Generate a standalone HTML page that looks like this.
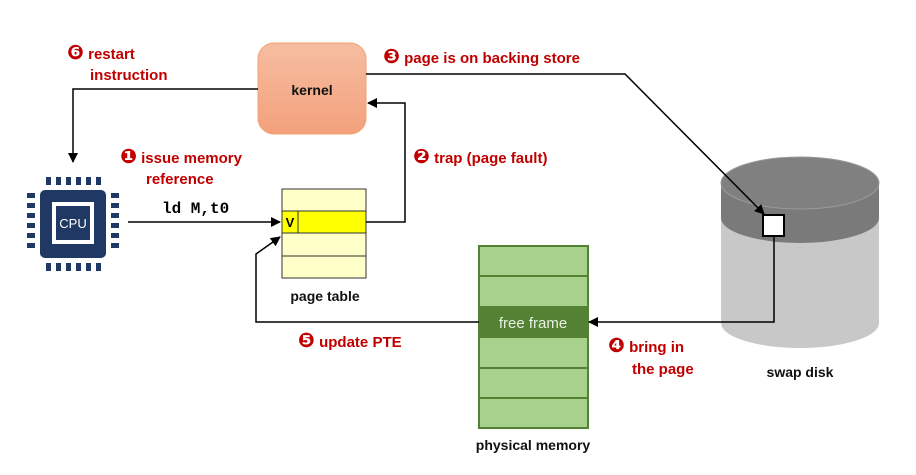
<!DOCTYPE html>
<html><head><meta charset="utf-8"><style>
body{margin:0;background:#fff}
svg text{font-family:"Liberation Sans",sans-serif}
svg text.m{font-family:"Liberation Mono",monospace}
.r{fill:#c00000;font-weight:bold;font-size:15px}
.b{fill:#111;font-weight:bold;font-size:14px}
.n{font-size:20px;font-family:"DejaVu Sans",sans-serif}
</style></head><body>
<svg width="916" height="470" viewBox="0 0 916 470" xmlns="http://www.w3.org/2000/svg">
<defs>
<marker id="a" markerWidth="10" markerHeight="10" refX="9" refY="5" orient="auto" markerUnits="userSpaceOnUse"><path d="M0,0 L10,5 L0,10 z" fill="#000"/></marker>
<linearGradient id="k" x1="0" y1="0" x2="0" y2="1"><stop offset="0" stop-color="#f6bda0"/><stop offset="1" stop-color="#f3a17c"/></linearGradient>
</defs>
<!-- disk -->
<path d="M721,323 L721,218 A79,25 0 0 0 879,218 L879,323 A79,25 0 0 1 721,323 z" fill="#c8c8c8"/>
<path d="M721,218 L721,183 A79,26 0 0 1 879,183 L879,218 A79,25 0 0 1 721,218 z" fill="#7a7a7a"/>
<ellipse cx="800" cy="183" rx="79" ry="26" fill="#808080" stroke="#999" stroke-width="1"/>
<!-- kernel -->
<rect x="258" y="43" width="108" height="91" rx="16" fill="url(#k)" stroke="#f0a070"/>
<text x="312" y="95" class="b" text-anchor="middle" font-size="15">kernel</text>
<!-- CPU -->
<g fill="#203864">
<rect x="40" y="190" width="66" height="68" rx="5"/>
<g id="pt"><rect x="46" y="177" width="5" height="8"/><rect x="56" y="177" width="5" height="8"/><rect x="66" y="177" width="5" height="8"/><rect x="76" y="177" width="5" height="8"/><rect x="86" y="177" width="5" height="8"/><rect x="96" y="177" width="5" height="8"/></g>
<use href="#pt" y="86"/>
<g id="pl"><rect x="27" y="193" width="8" height="5"/><rect x="27" y="203" width="8" height="5"/><rect x="27" y="213" width="8" height="5"/><rect x="27" y="223" width="8" height="5"/><rect x="27" y="233" width="8" height="5"/><rect x="27" y="243" width="8" height="5"/></g>
<use href="#pl" x="84"/>
</g>
<rect x="54" y="204" width="38" height="38" fill="#203864" stroke="#fff" stroke-width="4"/>
<text x="73" y="228" fill="#fff" font-size="13" text-anchor="middle">CPU</text>
<!-- page table -->
<rect x="282" y="189" width="84" height="89" fill="#ffffc8" stroke="#333"/>
<rect x="282" y="211" width="84" height="22" fill="#ffff00" stroke="#333"/>
<line x1="282" y1="256" x2="366" y2="256" stroke="#333"/>
<line x1="298" y1="211" x2="298" y2="233" stroke="#333"/>
<text x="290" y="227" font-size="13" font-weight="bold" text-anchor="middle">V</text>
<text x="325" y="301" class="b" text-anchor="middle" font-size="15">page table</text>
<!-- memory -->
<rect x="479" y="246" width="109" height="182" fill="#a9d18e" stroke="#548235" stroke-width="2"/>
<g stroke="#548235" stroke-width="2"><line x1="479" y1="276" x2="588" y2="276"/><line x1="479" y1="368" x2="588" y2="368"/><line x1="479" y1="398" x2="588" y2="398"/></g>
<rect x="479" y="306" width="109" height="32" fill="#548235"/>
<text x="533" y="328" fill="#e8f0e0" font-size="15" text-anchor="middle">free frame</text>
<text x="533" y="450" class="b" text-anchor="middle" font-size="15">physical memory</text>
<text x="800" y="377" class="b" text-anchor="middle" font-size="15">swap disk</text>
<!-- square -->
<rect x="763" y="215" width="21" height="21" fill="#fff" stroke="#000" stroke-width="2"/>
<!-- connectors -->
<g fill="none" stroke="#000" stroke-width="1.5">
<line x1="128" y1="222" x2="280" y2="222" marker-end="url(#a)"/>
<polyline points="366,222 405,222 405,103 368,103" marker-end="url(#a)"/>
<polyline points="258,89 73,89 73,162" marker-end="url(#a)"/>
<polyline points="366,74 625,74 764,214" marker-end="url(#a)"/>
<polyline points="774,236 774,322 589,322" marker-end="url(#a)"/>
<polyline points="479,322 256,322 256,254 280,237" marker-end="url(#a)"/>
</g>
<!-- labels -->
<text x="67" y="59" class="r"><tspan class="n">❻</tspan> restart</text>
<text x="90" y="80" class="r">instruction</text>
<text x="383" y="63" class="r"><tspan class="n">❸</tspan> page is on backing store</text>
<text x="120" y="163" class="r"><tspan class="n">❶</tspan> issue memory</text>
<text x="146" y="184" class="r">reference</text>
<text x="162" y="213" class="m" font-size="16" font-weight="bold">ld M,t0</text>
<text x="413" y="163" class="r"><tspan class="n">❷</tspan> trap (page fault)</text>
<text x="298" y="347" class="r"><tspan class="n">❺</tspan> update PTE</text>
<text x="608" y="352" class="r"><tspan class="n">❹</tspan> bring in</text>
<text x="632" y="374" class="r">the page</text>
</svg>
</body></html>
